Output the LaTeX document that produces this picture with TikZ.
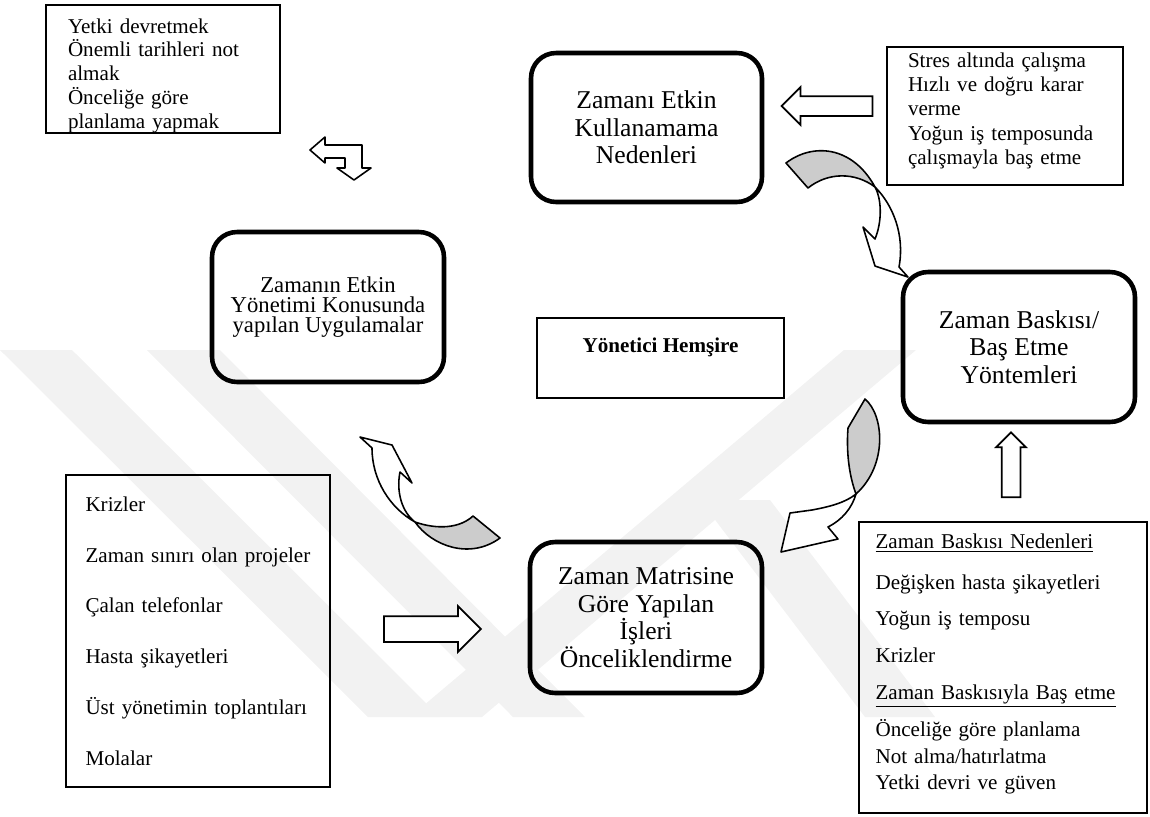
\documentclass[tikz,border=0pt]{standalone}
\usepackage{fontspec}
\setmainfont{Liberation Serif}
\usetikzlibrary{shapes.arrows}

\tikzset{
  roundbox/.style={draw, line width=2.6pt, rounded corners=0.5cm, align=center, inner sep=0pt,
    font=\fontsize{14.6}{15.7}\selectfont},
  listbox/.style={draw, line width=1pt, align=left, inner sep=0pt,
    font=\fontsize{12}{13.8}\selectfont},
  blockarrow/.style={single arrow, draw, line width=1pt, fill=white,
    single arrow head indent=0pt, minimum width=0pt},
  foldback/.style={draw, line width=0.9pt, fill=gray!40, line join=round},
  foldfront/.style={draw, line width=0.9pt, fill=white, line join=round},
  wmband/.style={fill=black!5, draw=none}
}

\begin{document}
\begin{tikzpicture}[x=0.02cm, y=-0.02cm]
  \useasboundingbox (0,0) rectangle (1150,816);

  % faint watermark behind everything
  \fill[wmband] (0,350) -- (72,350) -- (440,717) -- (368,717) -- cycle;
  \fill[wmband] (147,350) -- (220,350) -- (585,717) -- (513,717) -- cycle;
  \fill[wmband] (410,717) -- (482,717) -- (916,350) -- (844,350) -- cycle;
  \fill[wmband] (700,500) -- (770,500) -- (935,717) -- (865,717) -- cycle;

  % boxes
  \node[listbox, font=\fontsize{12}{13.5}\selectfont, text width=3.8cm, minimum width=4.68cm, minimum height=2.56cm] (tips) at (163,69)
    {\rule{0pt}{15.8pt}Yetki devretmek\\Önemli tarihleri not\\almak\\Önceliğe göre\\planlama yapmak};
  \node[roundbox, minimum width=4.62cm, minimum height=2.98cm] (causes) at (646.5,127.5)
    {Zamanı Etkin\\Kullanamama\\Nedenleri};
  \node[listbox, text width=3.88cm, minimum width=4.72cm, minimum height=2.76cm] (stress) at (1005,116)
    {Stres altında çalışma\\Hızlı ve doğru karar\\verme\\Yoğun iş temposunda\\çalışmayla baş etme\rule[-8.5pt]{0pt}{0pt}};
  \node[roundbox, font=\fontsize{12.9}{11.5}\selectfont, minimum width=4.64cm, minimum height=3cm] (practices) at (328,307)
    {Zamanın Etkin\\Yönetimi Konusunda\\yapılan Uygulamalar};
  \node[draw, line width=1pt, font=\bfseries\fontsize{12}{14}\selectfont, inner sep=0pt,
    text height=8.5pt, text depth=15pt, minimum width=4.94cm, minimum height=1.6cm] (hub) at (660.5,358)
    {Yönetici Hemşire};
  \node[roundbox, minimum width=4.64cm, minimum height=3cm] (pressure) at (1019,347)
    {Zaman Baskısı/\\Baş Etme\\Yöntemleri};
  \node[roundbox, minimum width=4.64cm, minimum height=3.02cm] (matrix) at (646,617.5)
    {Zaman Matrisine\\Göre Yapılan\\İşleri\\Önceliklendirme};
  \node[listbox, font=\fontsize{12}{28.9}\selectfont, text width=4.5cm, minimum width=5.28cm, minimum height=6.24cm] (wasters) at (198,631)
    {Krizler\\Zaman sınırı olan projeler\\Çalan telefonlar\\Hasta şikayetleri\\Üst yönetimin toplantıları\\Molalar};
  \node[listbox, font=\fontsize{12}{15}\selectfont, text width=5.1cm, minimum width=5.76cm, minimum height=5.82cm] (coping) at (1003,667.5)
    {\underline{Zaman Baskısı Nedenleri}\\[8pt]Değişken hasta şikayetleri\\[6pt]Yoğun iş temposu\\[6pt]Krizler\\[6pt]%
     \underline{Zaman Baskısıyla Baş etme}\\[6pt]Önceliğe göre planlama\\Not alma/hatırlatma\\Yetki devri ve güven\rule[-6.6pt]{0pt}{0pt}};

  % straight block arrows
  \node[blockarrow, shape border rotate=180, minimum height=1.82cm, inner sep=0.18cm,
    single arrow head extend=0.18cm] (leftarr) at (832,106) {};
  \node[blockarrow, minimum height=1.94cm, inner sep=0.24cm,
    single arrow head extend=0.2cm] (rightarr) at (426,629) {};
  \node[blockarrow, shape border rotate=90, minimum height=1.3cm, inner sep=0.17cm,
    single arrow head extend=0.11cm] (uparr) at (1011,469.5) {};

  % bent arrow under the tips box
  \draw[foldfront] (310,150) -- (325,137) -- (325,145) -- (362,145) -- (362,168) -- (371,168)
    -- (354,180) -- (337,168) -- (345,168) -- (345,158) -- (325,158) -- (325,163) -- cycle;

  % curved arrow: causes -> pressure
  \draw[foldback] (786,163) .. controls (812,143) and (852,145) .. (875,187)
    .. controls (855,172) and (828,172) .. (808,188) -- cycle;
  \draw[foldfront] (875,187) .. controls (893,205) and (905,235) .. (899,267) -- (908,277) -- (875,266)
    -- (863,227) -- (875,239) .. controls (882,222) and (882,200) .. (875,187) -- cycle;

  % curved arrow: pressure -> matrix
  \draw[foldback] (865,399) -- (848,428) .. controls (846,455) and (850,478) .. (856,494)
    .. controls (888,465) and (884,415) .. (865,399) -- cycle;
  \draw[foldfront] (856,494) .. controls (845,503) and (828,507) .. (812,510) -- (790,513) -- (781,552)
    -- (838,539) -- (828,527) .. controls (842,520) and (852,508) .. (856,494) -- cycle;

  % curved arrow: matrix -> practices
  \draw[foldfront] (415,522) .. controls (390,508) and (372,480) .. (372,448) -- (360,437) -- (392,445)
    -- (412,483) -- (400,472) .. controls (396,492) and (402,512) .. (415,522) -- cycle;
  \draw[foldback] (415,522) .. controls (432,546) and (470,560) .. (500,538) -- (473,516)
    .. controls (460,528) and (438,530) .. (415,522) -- cycle;
\end{tikzpicture}
\end{document}
